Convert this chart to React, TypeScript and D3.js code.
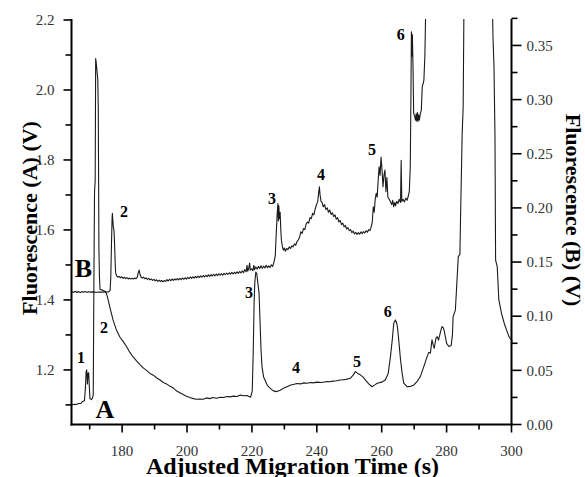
import React from 'react';
import * as d3 from 'd3';

const W = 585;
const H = 477;

const xMajorTicks = [180, 200, 220, 240, 260, 280, 300];
const xMinorTicks = [170, 190, 210, 230, 250, 270, 290];
const leftMajorTicks = [1.2, 1.4, 1.6, 1.8, 2.0, 2.2];
const leftMinorTicks = [1.1, 1.3, 1.5, 1.7, 1.9, 2.1];
const rightMajorTicks = [0, 0.05, 0.1, 0.15, 0.2, 0.25, 0.3, 0.35];
const rightMinorTicks = [0.025, 0.075, 0.125, 0.175, 0.225, 0.275, 0.325, 0.375];

// Trace A (left axis, V) : [time s, fluorescence]
const seriesA: [number, number][] = [
  [164.5, 1.100], [165.2, 1.102], [165.9, 1.101], [166.6, 1.104], [167.3, 1.104], [167.8, 1.110], [168.4, 1.112],
  [168.7, 1.150], [168.9, 1.195], [169.1, 1.200], [169.3, 1.160], [169.5, 1.190], [169.7, 1.192], [169.9, 1.150],
  [170.1, 1.118], [170.5, 1.115], [170.9, 1.120], [171.1, 1.130], [171.3, 1.450], [171.5, 1.710], [171.7, 1.740],
  [171.85, 2.090], [172.0, 2.080], [172.2, 2.060], [172.5, 2.030], [172.65, 1.950], [172.75, 1.750], [172.85, 1.550],
  [173.0, 1.470], [173.2, 1.430], [174.0, 1.428], [174.7, 1.425], [175.2, 1.418], [175.7, 1.400], [176.2, 1.380],
  [177.2, 1.343], [178.2, 1.315], [179.3, 1.294], [180.4, 1.280], [181.4, 1.266], [182.4, 1.250], [183.4, 1.237],
  [184.5, 1.225], [185.5, 1.215], [186.6, 1.205], [187.6, 1.198], [188.6, 1.190], [189.6, 1.185], [190.7, 1.177],
  [191.7, 1.171], [192.7, 1.164], [193.7, 1.160], [194.8, 1.153], [195.8, 1.148], [196.8, 1.140], [197.8, 1.135],
  [198.8, 1.130], [199.8, 1.125], [200.9, 1.121], [201.9, 1.118], [203.0, 1.116], [204.0, 1.117], [205.0, 1.116],
  [206.0, 1.120], [207.0, 1.118], [208.0, 1.121], [209.1, 1.119], [210.2, 1.122], [211.2, 1.121], [212.3, 1.124],
  [213.3, 1.123], [214.3, 1.125], [215.4, 1.124], [216.4, 1.128], [217.5, 1.126], [218.5, 1.127], [219.6, 1.122],
  [220.1, 1.140], [220.4, 1.250], [220.7, 1.400], [220.9, 1.450], [221.2, 1.480], [221.5, 1.475], [221.8, 1.450],
  [222.2, 1.420], [222.5, 1.340], [222.8, 1.260], [223.1, 1.210], [223.6, 1.180], [224.1, 1.170], [224.8, 1.155],
  [225.6, 1.148], [226.6, 1.140], [227.7, 1.138], [228.7, 1.142], [229.8, 1.148], [230.8, 1.152], [232.0, 1.157],
  [233.0, 1.159], [233.9, 1.161], [235.0, 1.160], [236.0, 1.163], [237.0, 1.162], [238.0, 1.164], [239.0, 1.163],
  [240.0, 1.165], [241.5, 1.164], [243.1, 1.167], [244.0, 1.166], [245.0, 1.168], [246.1, 1.169], [247.2, 1.171],
  [248.1, 1.172], [249.0, 1.173], [250.3, 1.176], [251.2, 1.185], [251.9, 1.195], [252.6, 1.190], [253.4, 1.186],
  [254.2, 1.180], [255.0, 1.171], [256.0, 1.160], [257.0, 1.152], [258.0, 1.158], [258.6, 1.162], [260.0, 1.165],
  [261.1, 1.171], [262.0, 1.190], [262.7, 1.238], [263.3, 1.290], [263.7, 1.333], [264.2, 1.343], [264.6, 1.335],
  [264.9, 1.319], [265.3, 1.280], [265.8, 1.229], [266.3, 1.190], [266.8, 1.162], [267.8, 1.152], [269.0, 1.153],
  [269.9, 1.157], [271.0, 1.168], [271.9, 1.181], [273.0, 1.210], [274.0, 1.238], [274.5, 1.250], [275.0, 1.248],
  [275.5, 1.286], [275.9, 1.270], [276.2, 1.262], [276.7, 1.290], [277.1, 1.295], [277.5, 1.285], [277.9, 1.300],
  [278.3, 1.315], [278.6, 1.324], [279.0, 1.320], [279.3, 1.310], [280.0, 1.276], [280.7, 1.267], [281.4, 1.270],
  [281.8, 1.300], [282.0, 1.352], [282.7, 1.371], [283.1, 1.438], [283.6, 1.524], [284.1, 1.530], [284.3, 1.638],
  [284.8, 1.876], [285.1, 1.950], [285.4, 2.300], [285.8, 2.600], [293.6, 2.600], [294.0, 2.300], [294.3, 2.150],
  [294.6, 2.067], [294.9, 1.876], [295.1, 1.514], [295.6, 1.495], [296.1, 1.400], [296.9, 1.362], [297.9, 1.329],
  [299.2, 1.295], [300.3, 1.282],
];

// Trace B (right axis, V) : [time s, fluorescence]
const seriesB: [number, number][] = [
  [164.6, 0.1226], [165.1, 0.1220], [165.6, 0.1230], [166.1, 0.1219], [166.6, 0.1228], [167.1, 0.1218], [167.6, 0.1227],
  [168.1, 0.1221], [168.6, 0.1229], [169.1, 0.1220], [169.6, 0.1226], [170.2, 0.1222], [171.0, 0.1225], [172.0, 0.1221],
  [173.0, 0.1224], [174.0, 0.1222], [175.0, 0.1225], [175.8, 0.1223], [176.3, 0.1240], [176.5, 0.1350], [176.7, 0.1640],
  [176.9, 0.1900], [177.0, 0.1950], [177.15, 0.1880], [177.3, 0.1820], [177.5, 0.1790], [177.7, 0.1650], [177.85, 0.1500],
  [178.0, 0.1400], [178.3, 0.1372], [178.7, 0.1360], [179.1, 0.1368], [179.5, 0.1355], [179.9, 0.1364], [180.3, 0.1350],
  [180.7, 0.1360], [181.1, 0.1347], [181.5, 0.1356], [181.9, 0.1344], [182.3, 0.1352], [182.7, 0.1342], [183.1, 0.1350],
  [183.5, 0.1343], [183.9, 0.1353], [184.3, 0.1346], [184.7, 0.1360], [185.0, 0.1405], [185.25, 0.1425], [185.5, 0.1390],
  [185.8, 0.1362], [186.2, 0.1352], [186.6, 0.1360], [187.0, 0.1346], [187.4, 0.1354], [187.8, 0.1340], [188.2, 0.1349],
  [188.6, 0.1336], [189.0, 0.1344], [189.4, 0.1331], [189.8, 0.1340], [190.2, 0.1327], [190.6, 0.1336], [191.0, 0.1322],
  [191.4, 0.1333], [191.8, 0.1320], [192.2, 0.1330], [192.6, 0.1318], [193.0, 0.1328], [193.4, 0.1322], [193.8, 0.1337],
  [194.2, 0.1325], [194.6, 0.1340], [195.0, 0.1328], [195.4, 0.1343], [195.8, 0.1330], [196.2, 0.1345], [196.6, 0.1334],
  [197.0, 0.1348], [197.4, 0.1336], [197.8, 0.1350], [198.2, 0.1338], [198.6, 0.1353], [199.0, 0.1341], [199.4, 0.1355],
  [199.8, 0.1343], [200.2, 0.1358], [200.6, 0.1346], [201.0, 0.1362], [201.4, 0.1349], [201.8, 0.1364], [202.2, 0.1352],
  [202.6, 0.1367], [203.0, 0.1355], [203.4, 0.1370], [203.8, 0.1357], [204.2, 0.1372], [204.6, 0.1360], [205.0, 0.1376],
  [205.4, 0.1362], [205.8, 0.1378], [206.2, 0.1365], [206.6, 0.1381], [207.0, 0.1368], [207.4, 0.1384], [207.8, 0.1371],
  [208.2, 0.1386], [208.6, 0.1373], [209.0, 0.1390], [209.4, 0.1375], [209.8, 0.1392], [210.2, 0.1378], [210.6, 0.1394],
  [211.0, 0.1380], [211.4, 0.1396], [211.8, 0.1383], [212.2, 0.1399], [212.6, 0.1385], [213.0, 0.1401], [213.4, 0.1388],
  [213.8, 0.1404], [214.2, 0.1390], [214.6, 0.1406], [215.0, 0.1393], [215.4, 0.1410], [215.8, 0.1396], [216.2, 0.1413],
  [216.6, 0.1399], [217.0, 0.1418], [217.4, 0.1402], [217.8, 0.1430], [218.2, 0.1410], [218.5, 0.1470], [218.7, 0.1415],
  [219.0, 0.1440], [219.3, 0.1490], [219.5, 0.1425], [219.9, 0.1438], [220.3, 0.1420], [220.6, 0.1470], [220.8, 0.1430],
  [221.2, 0.1455], [221.6, 0.1435], [222.0, 0.1460], [222.4, 0.1440], [222.8, 0.1465], [223.2, 0.1442], [223.6, 0.1462],
  [224.0, 0.1445], [224.4, 0.1470], [224.8, 0.1448], [225.2, 0.1465], [225.6, 0.1450], [226.0, 0.1475], [226.4, 0.1460],
  [226.8, 0.1500], [227.2, 0.1560], [227.5, 0.1765], [227.8, 0.1950], [228.0, 0.2040], [228.15, 0.1880], [228.3, 0.2020],
  [228.5, 0.1900], [228.7, 0.1960], [228.9, 0.1800], [229.1, 0.1700], [229.4, 0.1640], [229.7, 0.1610], [230.0, 0.1630],
  [230.3, 0.1600], [230.7, 0.1625], [231.1, 0.1615], [231.5, 0.1640], [231.9, 0.1625], [232.3, 0.1650], [232.7, 0.1640],
  [233.1, 0.1668], [233.5, 0.1655], [233.9, 0.1690], [234.3, 0.1705], [234.7, 0.1730], [235.1, 0.1780], [235.5, 0.1765],
  [235.9, 0.1810], [236.3, 0.1800], [236.7, 0.1850], [237.1, 0.1870], [237.5, 0.1860], [237.9, 0.1910], [238.3, 0.1900],
  [238.7, 0.1950], [239.1, 0.1935], [239.5, 0.1990], [239.9, 0.2030], [240.3, 0.2060], [240.6, 0.2150], [240.8, 0.2195],
  [241.0, 0.2120], [241.3, 0.2060], [241.6, 0.2050], [242.0, 0.2010], [242.4, 0.2030], [242.8, 0.1985], [243.2, 0.2000],
  [243.6, 0.1960], [244.0, 0.1980], [244.4, 0.1940], [244.8, 0.1955], [245.2, 0.1920], [245.6, 0.1935], [246.0, 0.1895],
  [246.4, 0.1910], [246.8, 0.1870], [247.2, 0.1885], [247.6, 0.1845], [248.0, 0.1860], [248.4, 0.1825], [248.8, 0.1838],
  [249.2, 0.1805], [249.6, 0.1818], [250.0, 0.1790], [250.4, 0.1800], [250.8, 0.1772], [251.2, 0.1785], [251.6, 0.1760],
  [252.0, 0.1775], [252.4, 0.1755], [252.8, 0.1772], [253.2, 0.1758], [253.6, 0.1778], [254.0, 0.1762], [254.4, 0.1782],
  [254.8, 0.1768], [255.2, 0.1790], [255.6, 0.1775], [256.0, 0.1800], [256.4, 0.1790], [256.8, 0.1830], [257.1, 0.1870],
  [257.4, 0.2010], [257.7, 0.1960], [258.0, 0.2080], [258.3, 0.2134], [258.6, 0.2100], [258.9, 0.2250], [259.2, 0.2380],
  [259.5, 0.2300], [259.8, 0.2470], [260.1, 0.2350], [260.4, 0.2195], [260.7, 0.2300], [261.0, 0.2350], [261.3, 0.2150],
  [261.6, 0.2280], [261.9, 0.2100], [262.3, 0.2080], [262.7, 0.2057], [263.1, 0.2030], [263.4, 0.2070], [263.7, 0.2010],
  [264.0, 0.2050], [264.3, 0.2020], [264.6, 0.2060], [265.0, 0.2040], [265.4, 0.2080], [265.8, 0.2050], [266.0, 0.2440],
  [266.2, 0.2060], [266.6, 0.2080], [267.0, 0.2055], [267.4, 0.2090], [267.8, 0.2070], [268.2, 0.2110], [268.5, 0.2150],
  [268.8, 0.2380], [269.0, 0.3000], [269.15, 0.3626], [269.3, 0.3400], [269.45, 0.3600], [269.65, 0.3300], [269.85, 0.2873],
  [270.1, 0.2850], [270.4, 0.2810], [270.6, 0.2870], [270.8, 0.2800], [271.0, 0.2880], [271.2, 0.2800], [271.4, 0.2860],
  [271.6, 0.2810], [271.9, 0.2870], [272.2, 0.2900], [272.5, 0.3120], [272.8, 0.3150], [273.0, 0.3180], [273.3, 0.3400],
  [273.6, 0.3900],
];

// Peak annotations: [label, time, value]
const peakLabelsA: [string, number, number][] = [
  ['1', 167.3, 1.220], ['2', 174.4, 1.305], ['3', 219.1, 1.4055], ['4', 233.6, 1.191], ['5', 252.4, 1.208], ['6', 261.9, 1.351],
];
const peakLabelsB: [string, number, number][] = [
  ['2', 180.6, 0.1916], ['3', 226.2, 0.2036], ['4', 241.3, 0.2257], ['5', 257.0, 0.2488], ['6', 265.9, 0.355],
];
const traceLabelA: [string, number, number] = ['A', 174.7, 1.0625];
const traceLabelB: [string, number, number] = ['B', 168.1, 0.1362];

const xTitle = 'Adjusted Migration Time (s)';
const leftTitle = 'Fluorescence (A) (V)';
const rightTitle = 'Fluorescence (B) (V)';

const FONT = "'Liberation Serif', 'Times New Roman', Times, serif";

export default function App() {
  const left = 71.5, right = 511.5, top = 20, bottom = 424.5;
  const x = d3.scaleLinear().domain([164.4, 300]).range([left, right]);
  const yA = d3.scaleLinear().domain([1.044, 2.2]).range([bottom, top]);
  const yB = d3.scaleLinear().domain([0, 0.3735]).range([bottom, top]);

  const lineA = d3.line<[number, number]>().x(d => x(d[0])).y(d => yA(d[1]));
  const lineB = d3.line<[number, number]>().x(d => x(d[0])).y(d => yB(d[1]));

  const fmt1 = d3.format('.1f');
  const fmt2 = d3.format('.2f');

  return (
    <svg width={W} height={H} style={{ position: 'absolute', left: 0, top: 0, background: '#fff', fontFamily: FONT }}>
      <defs>
        <clipPath id="plotclip">
          <rect x={left} y={top - 1} width={right - left + 2} height={bottom - top + 1} />
        </clipPath>
      </defs>
      <rect x={0} y={0} width={W} height={H} fill="#fff" />

      <g clipPath="url(#plotclip)" fill="none" stroke="#1a1a1a" strokeWidth={1.1} strokeLinejoin="round">
        <path d={lineA(seriesA) || ''} />
        <path d={lineB(seriesB) || ''} />
      </g>

      {/* axes lines */}
      <g stroke="#000" strokeWidth={2} fill="none">
        <line x1={left} y1={top - 1} x2={left} y2={bottom + 1} />
        <line x1={left - 1} y1={bottom} x2={right + 1} y2={bottom} />
        <line x1={right} y1={top - 1} x2={right} y2={bottom + 1} />
      </g>

      {/* ticks */}
      <g stroke="#000" strokeWidth={1.6}>
        {leftMajorTicks.map(v => (
          <line key={'lM' + v} x1={left - 8} x2={left} y1={yA(v)} y2={yA(v)} />
        ))}
        {leftMinorTicks.map(v => (
          <line key={'lm' + v} x1={left - 6} x2={left} y1={yA(v)} y2={yA(v)} />
        ))}
        {xMajorTicks.map(v => (
          <line key={'xM' + v} x1={x(v)} x2={x(v)} y1={bottom} y2={bottom + 8} />
        ))}
        {xMinorTicks.map(v => (
          <line key={'xm' + v} x1={x(v)} x2={x(v)} y1={bottom} y2={bottom + 5} />
        ))}
        {rightMajorTicks.map(v => (
          <line key={'rM' + v} x1={right} x2={right + 10} y1={yB(v)} y2={yB(v)} />
        ))}
        {rightMinorTicks.map(v => (
          <line key={'rm' + v} x1={right} x2={right + 6} y1={yB(v)} y2={yB(v)} />
        ))}
      </g>

      {/* tick labels */}
      <g fontSize={15} fill="#333" style={{ fontFamily: FONT }}>
        {leftMajorTicks.map(v => (
          <text key={'lt' + v} x={left - 17} y={yA(v)} dy="0.35em" textAnchor="end">{fmt1(v)}</text>
        ))}
        {xMajorTicks.map(v => (
          <text key={'xt' + v} x={x(v)} y={456} textAnchor="middle">{v}</text>
        ))}
        {rightMajorTicks.map(v => (
          <text key={'rt' + v} x={right + 15} y={yB(v)} dy="0.35em" textAnchor="start">{fmt2(v)}</text>
        ))}
      </g>

      {/* axis titles */}
      <g fontWeight="bold" fill="#000" style={{ fontFamily: FONT }}>
        <text x={(left + right) / 2 + 1} y={474} fontSize={24} textAnchor="middle">{xTitle}</text>
        <text transform="translate(37,218) rotate(-90)" fontSize={22} textAnchor="middle">{leftTitle}</text>
        <text transform="translate(566,210) rotate(90)" fontSize={22} textAnchor="middle">{rightTitle}</text>
      </g>

      {/* peak labels */}
      <g fontWeight="bold" fontSize={16} fill="#000" textAnchor="middle" style={{ fontFamily: FONT }}>
        {peakLabelsA.map(([s, t, v]) => (
          <text key={'pa' + s} x={x(t)} y={yA(v)}>{s}</text>
        ))}
        {peakLabelsB.map(([s, t, v]) => (
          <text key={'pb' + s} x={x(t)} y={yB(v)}>{s}</text>
        ))}
      </g>
      <g fontWeight="bold" fontSize={26} fill="#000" textAnchor="middle" style={{ fontFamily: FONT }}>
        <text x={x(traceLabelA[1])} y={yA(traceLabelA[2])}>{traceLabelA[0]}</text>
        <text x={x(traceLabelB[1])} y={yB(traceLabelB[2])}>{traceLabelB[0]}</text>
      </g>
    </svg>
  );
}
